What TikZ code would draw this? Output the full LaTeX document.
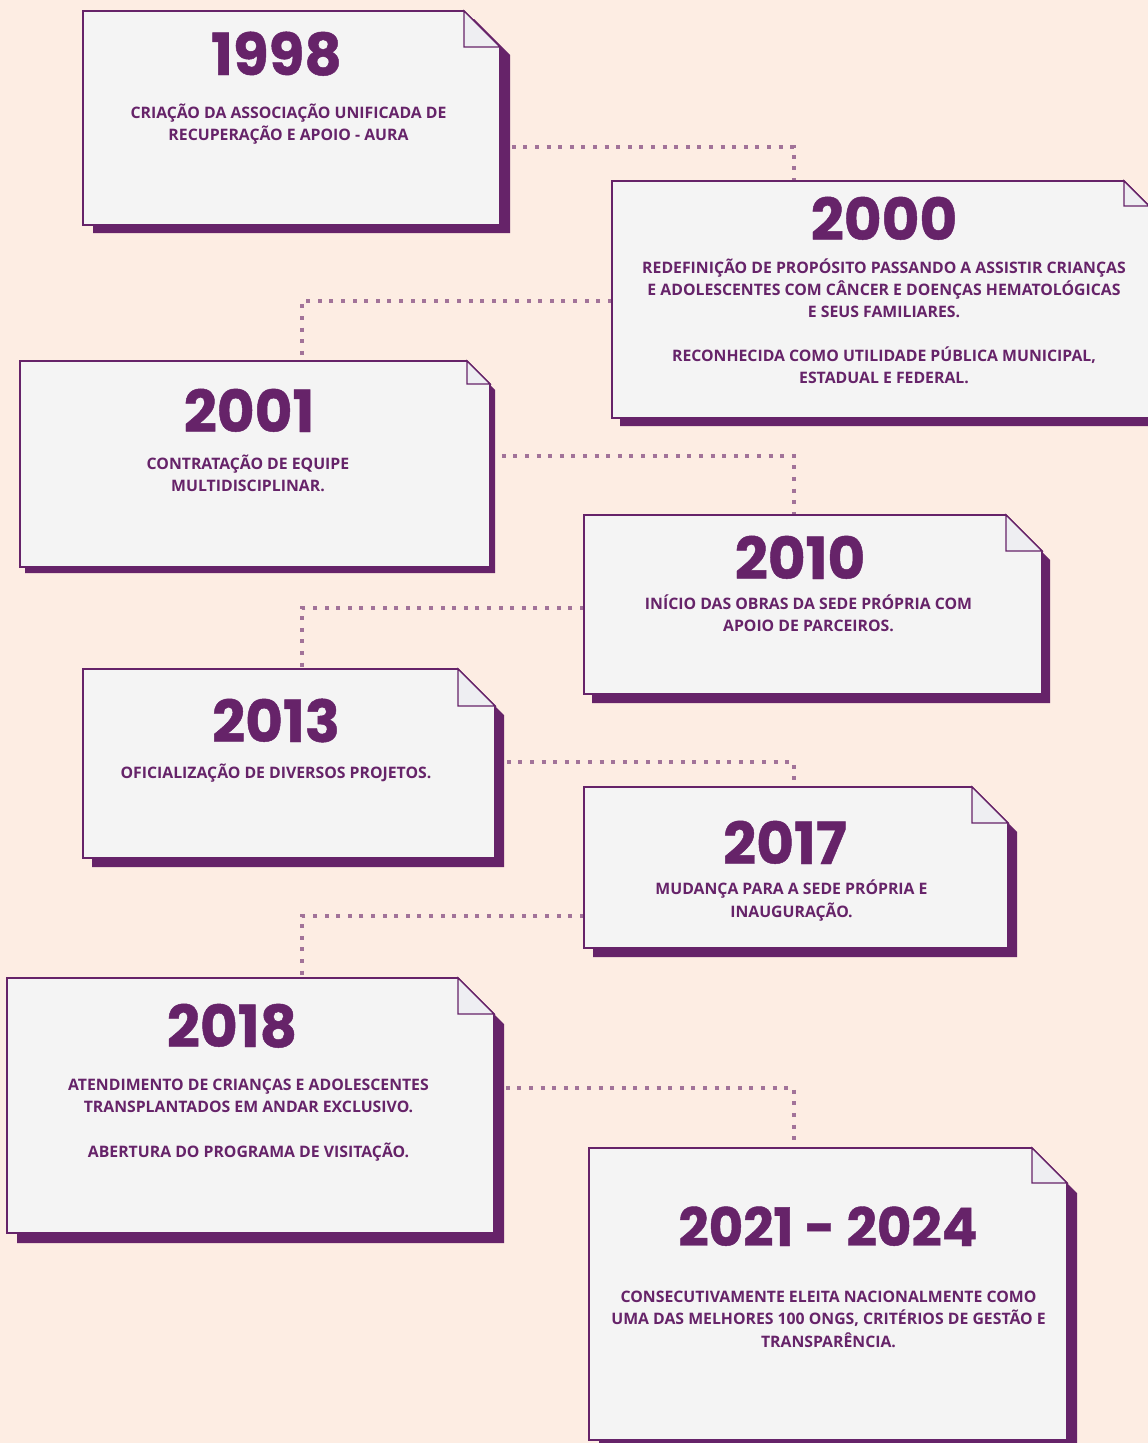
\documentclass[tikz,border=0pt]{standalone}
\usepackage{fontspec}
\setmainfont{Open Sans}
\newfontfamily\yearfont{Poppins}[BoldFeatures={FakeBold=0.8}]
\newfontfamily\bodyfont{Open Sans}
\usetikzlibrary{fit}
\definecolor{aurapurple}{HTML}{662369}
\definecolor{bgpeach}{HTML}{FDEDE3}
\definecolor{cardfill}{HTML}{F4F4F4}
\definecolor{foldfill}{HTML}{EEEEF2}
\pgfdeclarelayer{bg}
\pgfsetlayers{bg,main}
\tikzset{
  cardshadow/.style={fill=aurapurple},
  cardfront/.style={draw=aurapurple, line width=1.6pt, fill=cardfill, line join=miter},
  cardfold/.style={draw=aurapurple, line width=1.4pt, fill=foldfill, line join=miter},
  yearlabel/.style={anchor=base, inner sep=0pt, text height=42pt, text depth=0pt, text=aurapurple, font=\yearfont\bfseries\fontsize{58}{58}\selectfont},
  yearsmall/.style={yearlabel, text height=38pt, font=\yearfont\bfseries\fontsize{53}{53}\selectfont},
  bodyline/.style={anchor=base, inner sep=0pt, text height=12pt, text depth=1pt, text=aurapurple, font=\bodyfont\bfseries\fontsize{15.8}{16}\selectfont},
  conn/.style={draw=aurapurple, opacity=0.6, line width=4pt, dash pattern=on 4pt off 7.6pt},
  cardbox/.style={inner sep=0pt, draw=none, fill=none},
}
% name, x1, y1, x2, y2, fold, dx, dy
\newcommand\drawcard[8]{%
  \fill[cardshadow] ({#2+#7},{#3+#8}) -- ({#4-#6+#7},{#3+#8}) -- ({#4+#7},{#3+#6+#8}) -- ({#4+#7},{#5+#8}) -- ({#2+#7},{#5+#8}) -- cycle;
  \draw[cardfront] (#2,#3) -- ({#4-#6},#3) -- (#4,{#3+#6}) -- (#4,#5) -- (#2,#5) -- cycle;
  \draw[cardfold] ({#4-#6},#3) -- ({#4-#6},{#3+#6}) -- (#4,{#3+#6}) -- cycle;
  \coordinate (#1-nw) at (#2,#3);
  \coordinate (#1-se) at (#4,#5);
  \node[cardbox, fit=(#1-nw)(#1-se)] (#1) {};
}
\begin{document}
\begin{tikzpicture}[x=1pt,y=-1pt]
\useasboundingbox (0,0) rectangle (1148,1443);
\clip (0,0) rectangle (1148,1443);
\begin{pgfonlayer}{bg}
  \fill[bgpeach] (0,0) rectangle (1148,1443);
\end{pgfonlayer}

\drawcard{c1998}{83}{11}{500}{225}{36}{10}{8}
\drawcard{c2000}{612}{181}{1149}{418}{25}{8}{8}
\drawcard{c2001}{20}{361}{490}{567}{23}{5}{6}
\drawcard{c2010}{584}{515}{1042}{694}{36}{8}{9}
\drawcard{c2013}{83}{669}{495}{858}{37}{9}{9}
\drawcard{c2017}{584}{787}{1008}{948}{36}{9}{9}
\drawcard{c2018}{7}{978}{494}{1233}{36}{10}{10}
\drawcard{c2021}{589}{1148}{1067}{1440}{35}{10}{10}

% connectors (behind the cards)
\coordinate (k1) at (794,147);
\coordinate (k2) at (302,301);
\coordinate (k3) at (794,456);
\coordinate (k4) at (302,608);
\coordinate (k5) at (794,762);
\coordinate (k6) at (302,916);
\coordinate (k7) at (794,1088);
\begin{pgfonlayer}{bg}
  \draw[conn] (c1998.east|-k1) -- (k1) -- (k1|-c2000.north);
  \draw[conn] (c2000.west|-k2) -- (k2) -- (k2|-c2001.north);
  \draw[conn] (c2001.east|-k3) -- (k3) -- (k3|-c2010.north);
  \draw[conn] (c2010.west|-k4) -- (k4) -- (k4|-c2013.north);
  \draw[conn] (c2013.east|-k5) -- (k5) -- (k5|-c2017.north);
  \draw[conn] (c2017.west|-k6) -- (k6) -- (k6|-c2018.north);
  \draw[conn] (c2018.east|-k7) -- (k7) -- (k7|-c2021.north);
\end{pgfonlayer}

% 1998
\node[yearlabel] (y1998) at (276.5,75) {1998};
\node[bodyline] (t1998a) at (288.5,118) {CRIAÇÃO DA ASSOCIAÇÃO UNIFICADA DE};
\node[bodyline] (t1998b) at (288.5,140) {RECUPERAÇÃO E APOIO - AURA};
% 2000
\node[yearlabel] (y2000) at (884,240) {2000};
\node[bodyline] (t2000a) at (884,273) {REDEFINIÇÃO DE PROPÓSITO PASSANDO A ASSISTIR CRIANÇAS};
\node[bodyline] (t2000b) at (884,295) {E ADOLESCENTES COM CÂNCER E DOENÇAS HEMATOLÓGICAS};
\node[bodyline] (t2000c) at (884,317) {E SEUS FAMILIARES.};
\node[bodyline] (t2000d) at (884,361) {RECONHECIDA COMO UTILIDADE PÚBLICA MUNICIPAL,};
\node[bodyline] (t2000e) at (884,383) {ESTADUAL E FEDERAL.};
% 2001
\node[yearlabel] (y2001) at (249,432) {2001};
\node[bodyline] (t2001a) at (248,469) {CONTRATAÇÃO DE EQUIPE};
\node[bodyline] (t2001b) at (248,491) {MULTIDISCIPLINAR.};
% 2010
\node[yearlabel] (y2010) at (800,579) {2010};
\node[bodyline] (t2010a) at (808.5,609) {INÍCIO DAS OBRAS DA SEDE PRÓPRIA COM};
\node[bodyline] (t2010b) at (808.5,631) {APOIO DE PARCEIROS.};
% 2013
\node[yearlabel] (y2013) at (276,742) {2013};
\node[bodyline] (t2013a) at (276,778) {OFICIALIZAÇÃO DE DIVERSOS PROJETOS.};
% 2017
\node[yearlabel] (y2017) at (785,864) {2017};
\node[bodyline] (t2017a) at (791.5,894) {MUDANÇA PARA A SEDE PRÓPRIA E};
\node[bodyline] (t2017b) at (791.5,917) {INAUGURAÇÃO.};
% 2018
\node[yearlabel] (y2018) at (232,1047) {2018};
\node[bodyline] (t2018a) at (248.5,1090) {ATENDIMENTO DE CRIANÇAS E ADOLESCENTES};
\node[bodyline] (t2018b) at (248.5,1112) {TRANSPLANTADOS EM ANDAR EXCLUSIVO.};
\node[bodyline] (t2018c) at (248.5,1157) {ABERTURA DO PROGRAMA DE VISITAÇÃO.};
% 2021 - 2024
\node[yearsmall] (y2021) at (828,1246) {2021 - 2024};
\node[bodyline] (t2021a) at (828.5,1302) {CONSECUTIVAMENTE ELEITA NACIONALMENTE COMO};
\node[bodyline] (t2021b) at (828.5,1324) {UMA DAS MELHORES 100 ONGS, CRITÉRIOS DE GESTÃO E};
\node[bodyline] (t2021c) at (828.5,1347) {TRANSPARÊNCIA.};
\end{tikzpicture}
\end{document}
